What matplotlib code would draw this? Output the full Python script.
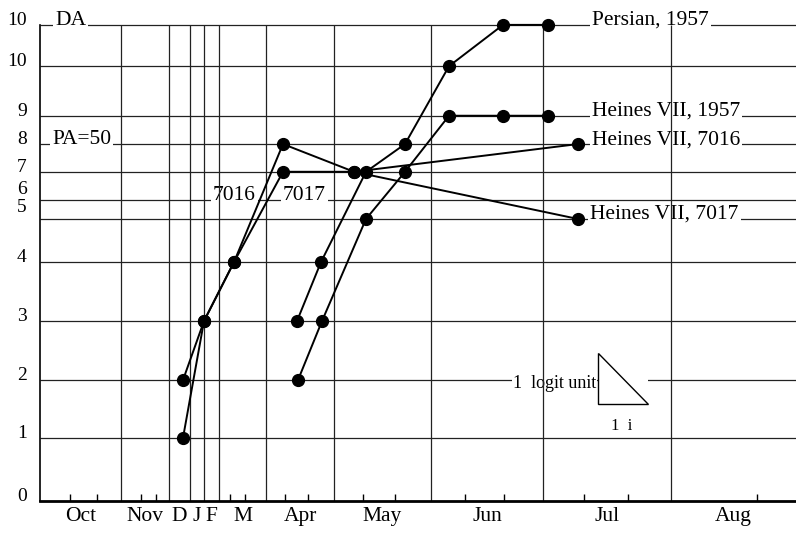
import matplotlib.pyplot as plt
from matplotlib.patches import Polygon

plt.rcParams['font.family'] = ['Liberation Serif', 'DejaVu Serif']

# time axis: month boundaries on a stretched scale (winter months compressed)
months = ['Oct', 'Nov', 'D', 'J', 'F', 'M', 'Apr', 'May', 'Jun', 'Jul', 'Aug']
month_edges = [0, 8.1, 12.9, 15.0, 16.4, 17.9, 22.6, 29.4, 39.1, 50.3, 63.1, 75.6]
minor_ticks = [3.0, 5.7, 10.1, 11.6, 19.0, 20.5, 24.5, 26.8, 32.3, 35.5,
               42.5, 46.4, 54.4, 58.8, 71.7]

# disease levels on the logit scale
level_labels = ['0', '1', '2', '3', '4', '5', '6', '7', '8', '9', '10', '10']
level_pos = [0, 1.07, 2.05, 3.05, 4.05, 4.78, 5.10, 5.58, 6.05, 6.53, 7.37, 8.07]

persian_x = [25.7, 28.1, 32.6, 36.5, 40.9, 46.3, 50.8]
persian_y = [3.05, 4.05, 5.58, 6.05, 7.37, 8.07, 8.07]

heines57_x = [25.8, 28.2, 32.6, 36.5, 40.9, 46.3, 50.8]
heines57_y = [2.05, 3.05, 4.78, 5.58, 6.53, 6.53, 6.53]

h7016_x = [14.3, 16.4, 19.4, 24.3, 31.4, 53.8]
h7016_y = [1.07, 3.05, 4.05, 6.05, 5.58, 6.05]

h7017_x = [14.3, 16.4, 19.4, 24.3, 31.4, 53.8]
h7017_y = [2.05, 3.05, 4.05, 5.58, 5.58, 4.78]

series = [(persian_x, persian_y), (heines57_x, heines57_y),
          (h7016_x, h7016_y), (h7017_x, h7017_y)]

fig = plt.figure(figsize=(7.96, 5.38), dpi=100)
ax = fig.add_axes([40 / 796, 37 / 538, 756 / 796, 491 / 538])
ax.set_xlim(0, 75.6)
ax.set_ylim(0, 491 / 59)

top = level_pos[-1]
ax.hlines(level_pos[1:], 0, 75.6, color='#222222', lw=0.9, zorder=1)
ax.vlines(month_edges[1:-1], 0, top, color='#222222', lw=0.9, zorder=2.5)

for xs, ys in series:
    ax.plot(xs, ys, color='black', lw=1.4, marker='o', ms=8.5, zorder=4)

# axes frame
for side in ['top', 'right']:
    ax.spines[side].set_visible(False)
ax.spines['bottom'].set_linewidth(2.0)
ax.spines['left'].set_linewidth(1.2)
ax.spines['left'].set_bounds(0, top)

centres = [(a + b) / 2 for a, b in zip(month_edges[:-1], month_edges[1:])]
ax.set_xticks(centres, months, fontsize=15.5)
ax.set_xticks(minor_ticks, minor=True)
ax.tick_params(axis='x', which='major', length=0, pad=4)
ax.tick_params(axis='x', which='minor', direction='in', length=5, width=1)
ax.set_yticks([])

# y labels sit on their lines; "6" and "5" are squeezed apart
nudge = {'5': 5.0, '6': 4.5}
for lab, y in zip(level_labels, level_pos):
    ax.annotate(lab, xy=(0, y), xycoords=ax.get_yaxis_transform(),
                xytext=(-9.5, nudge.get(lab, 0)), textcoords='offset points',
                ha='right', va='baseline', fontsize=14)

box = dict(facecolor='white', edgecolor='none', pad=1.5)
labels = [('DA', 1.5, 8.07), ('PA=50', 1.2, 6.05),
          ('7016', 17.3, 5.10), ('7017', 24.3, 5.10),
          ('Persian, 1957', 55.2, 8.07),
          ('Heines VII, 1957', 55.2, 6.53),
          ('Heines VII, 7016', 55.2, 6.05),
          ('Heines VII, 7017', 55.0, 4.78)]
for txt, x, y in labels:
    ax.text(x, y, txt, fontsize=15.5, ha='left', va='baseline',
            bbox=box, zorder=2)

# slope triangle for one logit unit
ax.add_patch(Polygon([(55.8, 2.51), (55.8, 1.64), (60.8, 1.64)], closed=True,
                     facecolor='white', edgecolor='black', lw=1.0, zorder=3))
ax.hlines(2.05, 55.8, 60.8, color='white', lw=3, zorder=2.8)
ax.text(47.3, 2.0, '1  logit unit', fontsize=13, ha='left', va='center',
        bbox=dict(facecolor='white', edgecolor='none', pad=0.5), zorder=2)
ax.text(58.2, 1.27, '1  i', fontsize=12, ha='center', va='center')

fig.savefig('out.png', dpi=100)
